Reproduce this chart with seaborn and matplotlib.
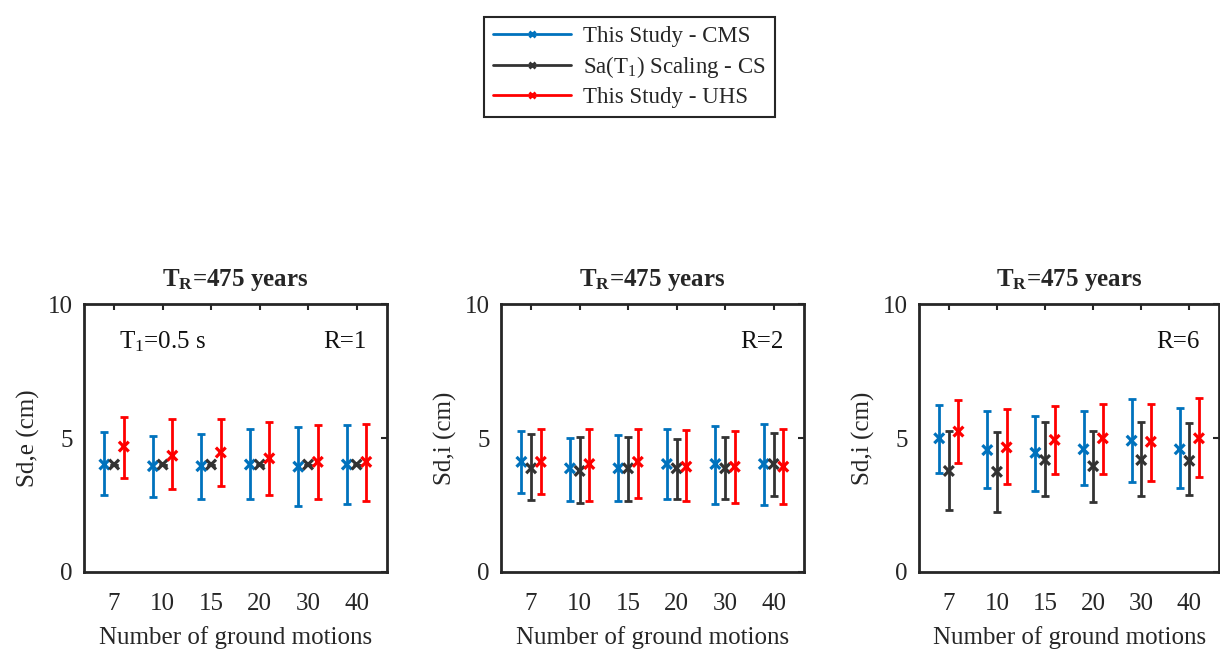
import numpy as np
import pandas as pd
import seaborn as sns
import matplotlib
matplotlib.use("Agg")
import matplotlib.pyplot as plt
from matplotlib.lines import Line2D

# ---------------- data ----------------
n_gm = [7, 10, 15, 20, 30, 40]
methods = ["This Study - CMS", r"Sa($\mathrm{T_1}$) Scaling - CS", "This Study - UHS"]

# Panel R=1  (Sd,e)
r1_cms_mean = [4.01, 3.95, 3.95, 4.01, 3.93, 4.01]
r1_cms_hi   = [5.24, 5.06, 5.14, 5.34, 5.40, 5.49]
r1_cms_lo   = [2.87, 2.79, 2.71, 2.71, 2.48, 2.53]
r1_cs_mean  = [4.01, 4.01, 4.01, 4.01, 4.01, 4.01]
r1_cs_hi    = [4.01, 4.01, 4.01, 4.01, 4.01, 4.01]
r1_cs_lo    = [4.01, 4.01, 4.01, 4.01, 4.01, 4.01]
r1_uhs_mean = [4.68, 4.34, 4.46, 4.24, 4.11, 4.11]
r1_uhs_hi   = [5.77, 5.71, 5.71, 5.61, 5.49, 5.52]
r1_uhs_lo   = [3.49, 3.08, 3.20, 2.89, 2.71, 2.66]

# Panel R=2  (Sd,i)
r2_cms_mean = [4.11, 3.87, 3.87, 4.03, 4.03, 4.03]
r2_cms_hi   = [5.27, 5.01, 5.11, 5.34, 5.45, 5.51]
r2_cms_lo   = [2.93, 2.66, 2.66, 2.71, 2.53, 2.49]
r2_cs_mean  = [3.87, 3.77, 3.87, 3.87, 3.87, 4.03]
r2_cs_hi    = [5.15, 5.05, 5.02, 4.95, 5.05, 5.20]
r2_cs_lo    = [2.68, 2.56, 2.66, 2.71, 2.71, 2.84]
r2_uhs_mean = [4.11, 4.03, 4.11, 3.93, 3.93, 3.93]
r2_uhs_hi   = [5.32, 5.34, 5.34, 5.30, 5.27, 5.34]
r2_uhs_lo   = [2.91, 2.66, 2.78, 2.66, 2.56, 2.53]

# Panel R=6  (Sd,i)
r6_cms_mean = [4.99, 4.55, 4.45, 4.58, 4.90, 4.58]
r6_cms_hi   = [6.23, 5.99, 5.82, 5.99, 6.46, 6.11]
r6_cms_lo   = [3.70, 3.12, 3.03, 3.24, 3.37, 3.12]
r6_cs_mean  = [3.77, 3.74, 4.18, 3.95, 4.18, 4.15]
r6_cs_hi    = [5.27, 5.24, 5.61, 5.26, 5.59, 5.55]
r6_cs_lo    = [2.33, 2.24, 2.83, 2.62, 2.83, 2.87]
r6_uhs_mean = [5.24, 4.65, 4.93, 4.99, 4.86, 4.99]
r6_uhs_hi   = [6.40, 6.07, 6.20, 6.27, 6.27, 6.48]
r6_uhs_lo   = [4.08, 3.30, 3.64, 3.64, 3.40, 3.53]

panels = [
    ("R=1", "Sd,e (cm)", [(r1_cms_mean, r1_cms_lo, r1_cms_hi),
                          (r1_cs_mean, r1_cs_lo, r1_cs_hi),
                          (r1_uhs_mean, r1_uhs_lo, r1_uhs_hi)]),
    ("R=2", "Sd,i (cm)", [(r2_cms_mean, r2_cms_lo, r2_cms_hi),
                          (r2_cs_mean, r2_cs_lo, r2_cs_hi),
                          (r2_uhs_mean, r2_uhs_lo, r2_uhs_hi)]),
    ("R=6", "Sd,i (cm)", [(r6_cms_mean, r6_cms_lo, r6_cms_hi),
                          (r6_cs_mean, r6_cs_lo, r6_cs_hi),
                          (r6_uhs_mean, r6_uhs_lo, r6_uhs_hi)]),
]

colors = ["#0072BD", "#333333", "#FF0000"]
offsets = [-0.2, 0.0, 0.2]

# ---------------- style ----------------
sns.set_theme(style="white")
plt.rcParams["font.family"] = ["Liberation Serif", "DejaVu Serif"]
plt.rcParams["mathtext.fontset"] = "custom"
plt.rcParams["mathtext.rm"] = "Liberation Serif"
plt.rcParams["mathtext.it"] = "Liberation Serif:italic"
plt.rcParams["mathtext.bf"] = "Liberation Serif:bold"

FS = 18
fig = plt.figure(figsize=(12.2, 6.52), dpi=100)
rects = [[0.0689, 0.1227, 0.248, 0.411],
         [0.4107, 0.1227, 0.248, 0.411],
         [0.7533, 0.1227, 0.246, 0.411]]

for p, (rtext, ylab, series) in enumerate(panels):
    ax = fig.add_axes(rects[p])
    rows = []
    for m, (mean, lo, hi) in enumerate(series):
        for i, n in enumerate(n_gm):
            rows.append({"x": i + 1 + offsets[m], "mean": mean[i], "lo": lo[i],
                         "hi": hi[i], "method": methods[m]})
    df = pd.DataFrame(rows)
    for m, meth in enumerate(methods):
        d = df[df["method"] == meth]
        ax.errorbar(d["x"], d["mean"],
                    yerr=[d["mean"] - d["lo"], d["hi"] - d["mean"]],
                    fmt="none", ecolor=colors[m], elinewidth=2.0,
                    capsize=3, capthick=2.0, zorder=2)
    sns.scatterplot(data=df, x="x", y="mean", hue="method", palette=dict(zip(methods, colors)),
                    marker="x", s=50, linewidth=2.3, ax=ax, legend=False, zorder=3)

    ax.set_xlim(0.38, 6.62)
    ax.set_ylim(0, 10)
    ax.set_xticks(range(1, 7))
    ax.set_xticklabels([str(n) for n in n_gm])
    ax.set_yticks([0, 5, 10])
    ax.tick_params(axis="both", direction="in", length=4, width=1.5, labelsize=FS,
                   top=True, right=True, colors="#262626")
    ax.tick_params(axis="x", pad=15)
    ax.tick_params(axis="y", pad=8)
    for s in ax.spines.values():
        s.set_linewidth(2.0)
        s.set_color("#262626")
    ax.set_xlabel("Number of ground motions", fontsize=FS, color="#262626", labelpad=8)
    ax.set_ylabel(ylab, fontsize=FS, color="#262626", labelpad=6)
    ax.set_title(r"$\mathbf{T_R}$=475 years", fontsize=FS, fontweight="bold", pad=13)
    ax.text(0.934, 0.86, rtext, transform=ax.transAxes, ha="right", va="center",
            fontsize=FS, color="#111111")
    if p == 0:
        ax.text(0.115, 0.86, r"$\mathrm{T_1}$=0.5 s", transform=ax.transAxes,
                ha="left", va="center", fontsize=FS, color="#111111")

handles = [Line2D([0], [0], color=c, lw=2, marker="x", markersize=5, mew=2) for c in colors]
leg = fig.legend(handles, methods, loc="upper center", bbox_to_anchor=(0.516, 0.992),
                 fontsize=16.5, frameon=True, fancybox=False, edgecolor="#262626",
                 framealpha=1, handlelength=3.4, labelspacing=0.3, borderpad=0.4,
                 handletextpad=0.5)
leg.get_frame().set_linewidth(1.5)

fig.savefig("out.png", dpi=100)
